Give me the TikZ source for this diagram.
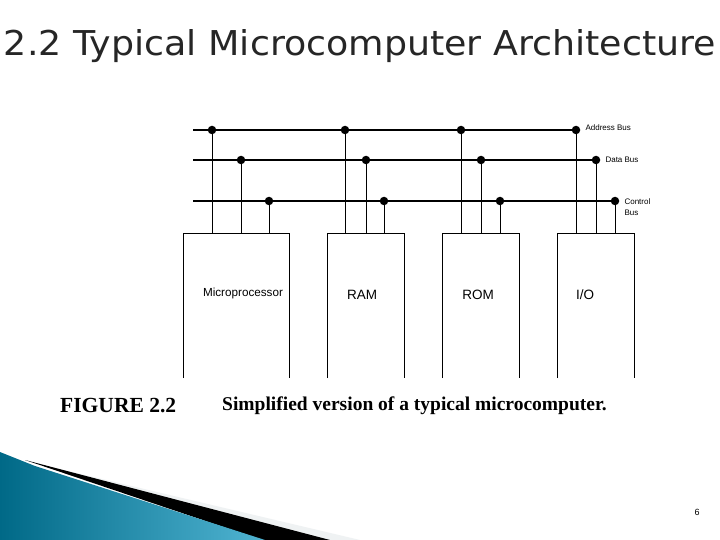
\documentclass[tikz,border=0pt]{standalone}
\usepackage{fontspec}
\usepackage{graphicx}
\setmainfont{Liberation Serif}
\newfontfamily\arial{Liberation Sans}
\newfontfamily\titlef{DejaVu Sans}
\definecolor{tealA}{RGB}{0,105,135}
\definecolor{tealB}{RGB}{80,180,210}
\begin{document}
\begin{tikzpicture}[x=1pt,y=-1pt,
  bus/.style={line width=1.1pt},
  tap/.style={line width=0.8pt},
  dot/.style={circle,fill=black,inner sep=0pt,minimum size=8.5pt},
  unit/.style={line width=0.9pt},
  lbl/.style={font=\arial\fontsize{8}{9}\selectfont,anchor=west}]
\useasboundingbox (0,0) rectangle (720,540);
\fill[white] (0,0) rectangle (720,540);
% decoration
\fill[cyan!15!gray!12] (30,462) -- (360,540) -- (325,540) -- cycle;
\fill[black] (25,460) -- (330,540) -- (262,540) -- cycle;
\shade[left color=tealA, right color=tealB] (0,452) -- (35,466) -- (265,540) -- (0,540) -- cycle;
% title
\node[text=black!85,inner sep=0pt] (title) at (360,46) {\resizebox{712pt}{26pt}{\titlef\fontsize{30}{32}\selectfont 2.2 Typical Microcomputer Architecture}};
% buses
\coordinate (a0) at (193,130); \coordinate (a1) at (576,130);
\coordinate (d0) at (193,160); \coordinate (d1) at (596,160);
\coordinate (c0) at (193,201); \coordinate (c1) at (615,201);
\draw[bus] (a0) -- (a1); \draw[bus] (d0) -- (d1); \draw[bus] (c0) -- (c1);
\node[lbl] (al) at (582,128) {Address Bus};
\node[lbl] (dl) at (602,160) {Data Bus};
\node[lbl,align=left] (cl) at (621,207) {Control\\[2pt]Bus};
% units
\foreach \x/\w in {183/106, 327/77, 442/77, 557/77}{
  \draw[unit] (\x,378) -- (\x,233) -- ({\x+\w},233) -- ({\x+\w},378);
}
\node[font=\arial\fontsize{11}{12}\selectfont,inner sep=0pt] (mp) at (243,293) {\resizebox{80pt}{!}{Microprocessor}};
\node[font=\arial\fontsize{13.5}{15}\selectfont] (ram) at (362,295) {RAM};
\node[font=\arial\fontsize{13.5}{15}\selectfont] (rom) at (478,295) {ROM};
\node[font=\arial\fontsize{13.5}{15}\selectfont] (io) at (585,295) {I/O};
% taps
\foreach \xa/\xd/\xc in {212/241/269, 345/366/384, 461/481/500, 576/596/615}{
  \draw[tap] (\xa,130) -- (\xa,233); \node[dot] at (\xa,130) {};
  \draw[tap] (\xd,160) -- (\xd,233); \node[dot] at (\xd,160) {};
  \draw[tap] (\xc,201) -- (\xc,233); \node[dot] at (\xc,201) {};
}
% caption
\node[font=\bfseries\fontsize{19.5}{21}\selectfont,anchor=west,inner sep=0pt] (fig) at (60,406) {\resizebox{116pt}{!}{FIGURE 2.2}};
\node[font=\bfseries\fontsize{19.5}{21}\selectfont,anchor=west,inner sep=0pt] (cap) at (222,406) {Simplified version of a typical microcomputer.};
\node[font=\arial\fontsize{9}{10}\selectfont] (pg) at (697,512) {6};
\end{tikzpicture}
\end{document}
